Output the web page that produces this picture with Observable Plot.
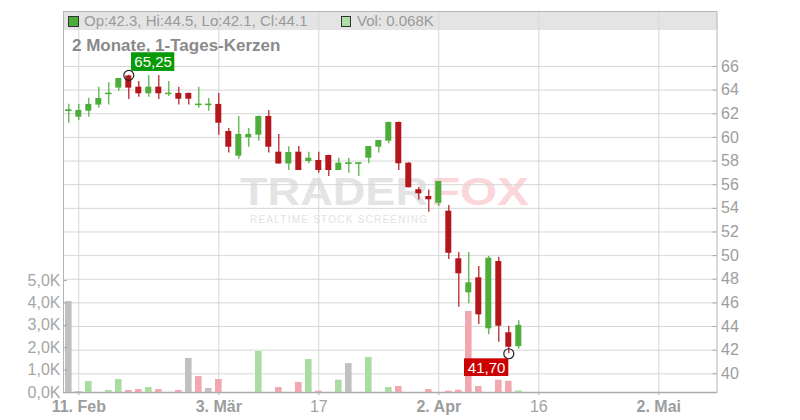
<!DOCTYPE html>
<html>
<head>
<meta charset="utf-8">
<script src="https://cdn.jsdelivr.net/npm/d3@7"></script>
<script src="https://cdn.jsdelivr.net/npm/@observablehq/plot@0.6"></script>
<style>
  html, body { margin: 0; padding: 0; background: #fff; }
  #wrap { position: relative; width: 800px; height: 420px; font-family: "Liberation Sans", Arial, sans-serif; overflow: hidden; }
  #wrap > svg, #wrap > div { position: absolute; left: 0; top: 0; }
</style>
</head>
<body>
<div id="wrap"></div>
<script>
// ---- data (trading-day index 0 = 10 Feb) ----
const opens  = [62.25,61.71,62.22,62.73,63.66,64.17,65.20,64.25,63.69,64.25,63.66,63.72,63.72,62.76,62.76,62.79,60.50,58.41,59.97,60.19,61.77,58.75,57.75,58.75,57.96,58.05,58.47,57.20,57.79,57.79,58.24,59.17,59.68,61.26,57.82,55.57,55.00,54.43,53.76,49.73,46.85,48.12,43.81,49.50,43.47,42.30];
const highs  = [62.80,62.79,63.32,64.25,64.62,65.00,65.25,64.73,65.24,65.24,64.73,64.25,63.75,64.25,63.29,63.72,60.75,61.77,60.75,61.80,62.28,60.25,59.20,59.23,58.75,58.75,58.50,58.24,58.24,57.85,59.23,59.74,61.30,61.30,57.85,55.77,55.55,56.27,54.24,50.26,50.26,49.08,49.93,49.87,44.03,44.50];
const lows   = [61.20,61.43,61.71,62.47,62.73,63.91,63.20,63.40,63.40,63.20,63.46,62.73,62.73,62.47,62.22,60.19,58.67,58.16,59.17,59.68,58.67,57.75,57.20,57.20,57.77,56.97,56.70,57.20,56.97,56.70,57.77,58.67,59.46,57.20,55.74,54.70,53.67,54.16,49.67,45.64,45.92,44.17,43.30,42.68,41.70,42.10];
const closes = [62.30,62.28,62.79,63.29,63.72,64.98,64.17,63.69,64.25,63.69,63.72,63.23,63.23,62.79,62.79,61.20,59.17,60.25,60.25,61.77,59.17,57.75,58.72,57.20,58.24,57.20,57.20,57.82,57.82,57.82,59.23,59.74,61.26,57.77,55.74,55.23,54.72,56.27,50.20,48.46,47.70,44.99,49.78,44.03,42.25,44.10];
const volumesK = [4.06,0.04,0.49,0,0.09,0.58,0.09,0.13,0.22,0.13,0,0.09,1.52,0.71,0.18,0.58,0,0,0,1.83,0,0.22,0,0.45,1.47,0.06,0,0.55,1.29,0,1.56,0,0.22,0.27,0,0,0.13,0,0.06,0.10,3.62,0.27,0,0.55,0.50,0.07];
const volDir   = ["n","n","u","n","u","u","d","d","u","d","n","d","n","d","n","d","n","n","n","u","n","d","n","d","u","d","n","u","n","n","u","n","u","d","n","n","d","n","d","d","d","d","n","d","d","u"];
const priceTicks = [40,42,44,46,48,50,52,54,56,58,60,62,64,66];
const volTicks = [0,1,2,3,4,5];
const xTickIdx = [1,15,25,37,47,59];
const xTickLabels = ["11. Feb","3. Mär","17","2. Apr","16","2. Mai"];
const xTickBold = [true,true,false,true,false,true];
const highMark = {i: 6, p: 65.25, label: "65,25"};
const lowMark = {i: 44, p: 41.70, label: "41,70"};
const legendOHLC = "Op:42.3, Hi:44.5, Lo:42.1, Cl:44.1";
const legendVol = "Vol: 0.068K";
const titleText = "2 Monate, 1-Tages-Kerzen";

// ---- layout ----
const W = 800, H = 420;
const M = {marginLeft: 63, marginRight: 83.5, marginTop: 11, marginBottom: 28};
const xDomain = [-0.53, 64.82];
const priceDomain = [38.42, 70.65];
const volDomain = [0, 17.01];
const FONT = '"Liberation Sans", Arial, sans-serif';
const UP = "#4cad3a", DOWN = "#b3161b";
const VOLC = {u: "#a9dca1", d: "#f0a7b0", n: "#c0c0c0"};

const candles = opens.map((o, i) => ({i, o, h: highs[i], l: lows[i], c: closes[i]}));
const vols = volumesK.map((v, i) => ({i, v, dir: volDir[i]})).filter(d => d.v > 0);
const labelOf = new Map(xTickIdx.map((t, k) => [t, xTickLabels[k]]));
const boldTicks = xTickIdx.filter((t, k) => xTickBold[k]);
const normTicks = xTickIdx.filter((t, k) => !xTickBold[k]);

const wrap = document.getElementById("wrap");
const base = {width: W, height: H, ...M, style: {background: "transparent", fontFamily: FONT, fontSize: "16px", overflow: "visible"}};

// background band
const band = document.createElement("div");
band.style.cssText = `left:63px;top:11px;width:653.5px;height:19px;background:#e4e4e4;`;
wrap.appendChild(band);

// watermark
const ns = "http://www.w3.org/2000/svg";
const wm = document.createElementNS(ns, "svg");
wm.setAttribute("width", W); wm.setAttribute("height", H);
wm.style.position = "absolute"; wm.style.left = "0"; wm.style.top = "0";
wm.innerHTML = `
  <text x="240" y="205" font-family='${FONT}' font-weight="bold" font-size="39" fill="#e4e4e4" textLength="188" lengthAdjust="spacingAndGlyphs">TRADER</text>
  <text x="431" y="205" font-family='${FONT}' font-weight="bold" font-size="39" fill="#fbd6da" textLength="98" lengthAdjust="spacingAndGlyphs">FOX</text>
  <text x="250" y="222.5" font-family='${FONT}' font-size="10" fill="#e2e2e2" textLength="177" lengthAdjust="spacing">REALTIME STOCK SCREENING</text>`;
wrap.appendChild(wm);

// layer 1: grid, frame, price + date axes
const grid = Plot.plot({
  ...base,
  x: {type: "linear", domain: xDomain, axis: null},
  y: {type: "linear", domain: priceDomain, axis: null},
  marks: [
    Plot.gridY(priceTicks, {stroke: "#d6d6d6", strokeOpacity: 1}),
    Plot.gridX(xTickIdx, {stroke: "#d6d6d6", strokeOpacity: 1}),
    Plot.frame({stroke: "#b4b4b4"}),
    Plot.ruleY(priceTicks, {x1: xDomain[1] - 0.4, x2: xDomain[1], stroke: "#aaa"}),
    Plot.axisY(priceTicks, {anchor: "right", label: null, tickSize: 0, tickPadding: 4, fill: "#9d9d9d", fontSize: 16, tickFormat: d => String(d)}),
    Plot.axisX(boldTicks, {anchor: "bottom", label: null, tickSize: 3, tickPadding: 5, stroke: "#aaa", fill: "#9d9d9d", fontWeight: "bold", fontSize: 16, tickFormat: d => labelOf.get(d)}),
    Plot.axisX(normTicks, {anchor: "bottom", label: null, tickSize: 3, tickPadding: 5, stroke: "#aaa", fill: "#a3a3a3", fontSize: 16, tickFormat: d => labelOf.get(d)}),
    Plot.ruleY([priceDomain[0]], {stroke: "#aaa", strokeWidth: 1.5})
  ]
});
wrap.appendChild(grid);

// layer 2: volume
const volPlot = Plot.plot({
  ...base,
  x: {type: "linear", domain: xDomain, axis: null},
  y: {type: "linear", domain: volDomain, label: null},
  marks: [
    Plot.rect(vols, {x1: d => d.i - 0.33, x2: d => d.i + 0.33, y1: 0, y2: "v", fill: d => VOLC[d.dir]}),
    Plot.ruleY(volTicks, {x1: xDomain[0], x2: xDomain[0] + 0.4, stroke: "#aaa"}),
    Plot.axisY(volTicks, {anchor: "left", label: null, tickSize: 0, tickPadding: 3, fill: "#a6a6a6", fontSize: 16, tickFormat: d => d.toFixed(1).replace(".", ",") + "K"})
  ]
});
wrap.appendChild(volPlot);

// layer 3: candles + markers
const isUp = d => d.c >= d.o;
const dojis = candles.filter(d => Math.abs(d.c - d.o) < 0.12);
const candlePlot = Plot.plot({
  ...base,
  x: {type: "linear", domain: xDomain, axis: null},
  y: {type: "linear", domain: priceDomain, axis: null},
  marks: [
    Plot.ruleX(candles, {x: "i", y1: "l", y2: "h", stroke: d => isUp(d) ? UP : DOWN, strokeWidth: 1.2}),
    Plot.rect(candles, {x1: d => d.i - 0.3, x2: d => d.i + 0.3, y1: "o", y2: "c", fill: d => isUp(d) ? UP : DOWN}),
    Plot.ruleY(dojis, {x1: d => d.i - 0.32, x2: d => d.i + 0.32, y: "c", stroke: d => isUp(d) ? UP : DOWN, strokeWidth: 1.5}),
    Plot.dot([highMark, lowMark], {x: "i", y: "p", r: 5, stroke: "#222", strokeWidth: 1.2, fill: "none"}),
    Plot.rect([highMark], {x1: "i", x2: "i", y1: "p", y2: "p", insetLeft: 2.7, insetRight: -46, insetTop: -22.6, insetBottom: 3.9, fill: "#089a08"}),
    Plot.text([highMark], {x: "i", y: "p", text: "label", dx: 24.3, dy: -13.3, fill: "#fff", fontSize: 15, textAnchor: "middle", lineAnchor: "middle"}),
    Plot.rect([lowMark], {x1: "i", x2: "i", y1: "p", y2: "p", insetLeft: -44.3, insetRight: 0, insetTop: 5.1, insetBottom: -22.8, fill: "#cc0000"}),
    Plot.text([lowMark], {x: "i", y: "p", text: "label", dx: -22.2, dy: 14, fill: "#fff", fontSize: 15, textAnchor: "middle", lineAnchor: "middle"})
  ]
});
wrap.appendChild(candlePlot);

// header texts
const hdr = document.createElement("div");
hdr.style.cssText = "left:0;top:0;width:800px;height:60px;pointer-events:none;";
hdr.innerHTML = `
  <div style="position:absolute;left:68px;top:16px;width:8.6px;height:8.6px;background:${UP};border:1px solid #333;"></div>
  <div style="position:absolute;left:84px;top:11px;height:19px;line-height:19px;font-size:15px;color:#9a9a9a;white-space:nowrap;">${legendOHLC}</div>
  <div style="position:absolute;left:340.5px;top:16px;width:8.6px;height:8.6px;background:#b0dca8;border:1px solid #333;"></div>
  <div style="position:absolute;left:357px;top:11px;height:19px;line-height:19px;font-size:15px;color:#9a9a9a;white-space:nowrap;">${legendVol}</div>
  <div style="position:absolute;left:72px;top:36px;font-size:17px;font-weight:bold;color:#8a8a8a;white-space:nowrap;">${titleText}</div>`;
wrap.appendChild(hdr);
</script>
</body>
</html>
